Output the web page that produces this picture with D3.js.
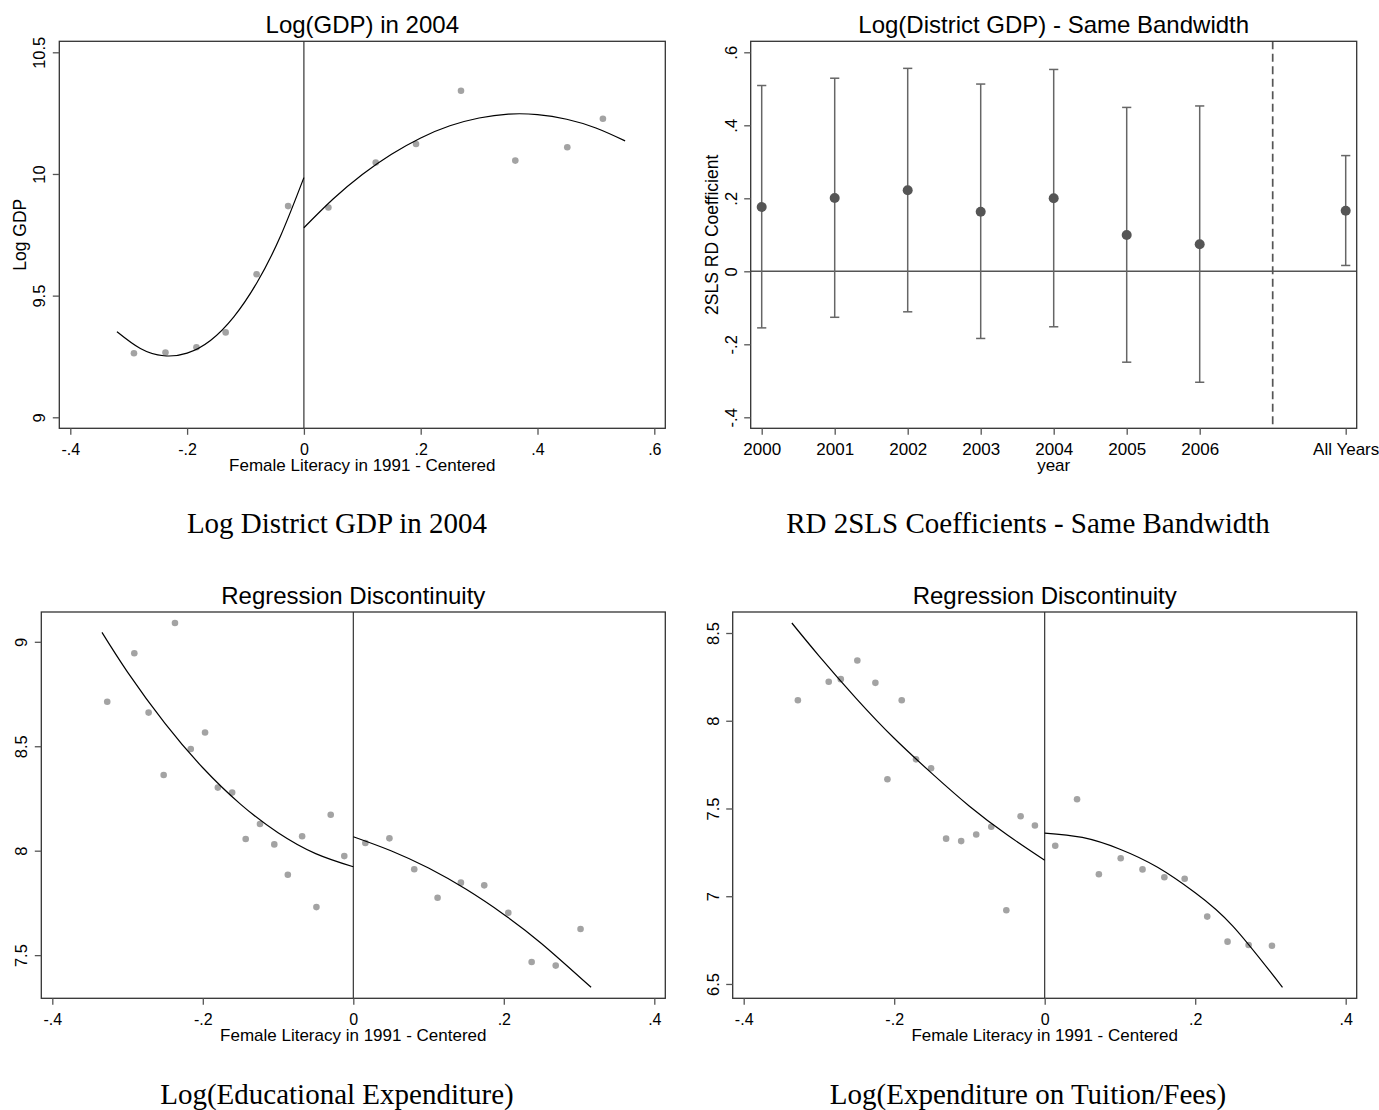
<!DOCTYPE html>
<html>
<head>
<meta charset="utf-8">
<script src="https://cdn.jsdelivr.net/npm/d3@7"></script>
<style>
  body { margin: 0; background: #fff; }
  svg { display: block; font-family: "Liberation Sans", Arial, sans-serif; }
</style>
</head>
<body>
<div id="chart"></div>
<script>
// ---------- values ----------
// Log(GDP) in 2004
const gdpBinX = [-0.291, -0.237, -0.184, -0.134, -0.081, -0.027, 0.042, 0.123, 0.192, 0.269, 0.362, 0.451, 0.512];
const gdpBinY = [9.263, 9.266, 9.288, 9.349, 9.588, 9.868, 9.862, 10.047, 10.123, 10.342, 10.055, 10.110, 10.227];
const gdpFitLeftX = [-0.32, -0.28, -0.24, -0.2, -0.16, -0.12, -0.08, -0.04, 0];
const gdpFitLeftY = [9.352, 9.283, 9.253, 9.264, 9.316, 9.413, 9.555, 9.745, 9.985];
const gdpFitRightX = [0, 0.05, 0.1, 0.15, 0.2, 0.25, 0.3, 0.35, 0.4, 0.45, 0.5, 0.55];
const gdpFitRightY = [9.779, 9.897, 9.998, 10.081, 10.148, 10.198, 10.230, 10.246, 10.244, 10.225, 10.189, 10.136];

// RD 2SLS coefficients by year (2008 = "All Years" slot, break at 2007)
const coefYears = [2000, 2001, 2002, 2003, 2004, 2005, 2006, 2008];
const coefLabels = ["2000", "2001", "2002", "2003", "2004", "2005", "2006", "All Years"];
const coefEst = [0.176, 0.201, 0.222, 0.163, 0.200, 0.0995, 0.074, 0.166];
const coefHi = [0.509, 0.529, 0.556, 0.513, 0.553, 0.449, 0.453, 0.317];
const coefLo = [-0.155, -0.126, -0.111, -0.184, -0.152, -0.249, -0.304, 0.016];
const coefBreak = 2007;

// Log(Educational Expenditure)
const eduBinX = [-0.327, -0.291, -0.272, -0.252, -0.237, -0.216, -0.197, -0.180, -0.161, -0.143, -0.124, -0.105, -0.087, -0.068, -0.049, -0.030, -0.012, 0.016, 0.048, 0.081, 0.112, 0.143, 0.174, 0.206, 0.237, 0.269, 0.302];
const eduBinY = [8.713, 8.945, 8.661, 8.362, 9.090, 8.487, 8.566, 8.302, 8.278, 8.056, 8.128, 8.030, 7.885, 8.069, 7.730, 8.172, 7.974, 8.037, 8.059, 7.911, 7.775, 7.847, 7.834, 7.703, 7.467, 7.450, 7.625];
const eduFitLeftX = [-0.334, -0.3, -0.25, -0.2, -0.15, -0.1, -0.05, 0];
const eduFitLeftY = [9.045, 8.855, 8.608, 8.397, 8.223, 8.086, 7.986, 7.923];
const eduFitRightX = [0, 0.05, 0.1, 0.15, 0.2, 0.25, 0.316];
const eduFitRightY = [8.067, 8.0, 7.917, 7.815, 7.695, 7.556, 7.346];

// Log(Expenditure on Tuition/Fees)
const tuiBinX = [-0.328, -0.287, -0.271, -0.249, -0.225, -0.209, -0.190, -0.171, -0.151, -0.131, -0.111, -0.091, -0.071, -0.051, -0.032, -0.013, 0.014, 0.043, 0.072, 0.101, 0.130, 0.159, 0.186, 0.216, 0.243, 0.271, 0.302];
const tuiBinY = [8.117, 8.222, 8.237, 8.343, 8.216, 7.667, 8.117, 7.780, 7.729, 7.328, 7.314, 7.352, 7.396, 6.920, 7.456, 7.403, 7.288, 7.553, 7.125, 7.216, 7.153, 7.108, 7.100, 6.884, 6.741, 6.722, 6.718];
const tuiFitLeftX = [-0.336, -0.3, -0.25, -0.2, -0.15, -0.1, -0.05, 0];
const tuiFitLeftY = [8.557, 8.37, 8.125, 7.90, 7.70, 7.513, 7.35, 7.205];
const tuiFitRightX = [0, 0.05, 0.1, 0.15, 0.2, 0.25, 0.316];
const tuiFitRightY = [7.36, 7.335, 7.268, 7.165, 7.02, 6.83, 6.481];

// tick values
const litTicksWide = [-0.4, -0.2, 0, 0.2, 0.4, 0.6];
const litTicks = [-0.4, -0.2, 0, 0.2, 0.4];
const gdpTicks = [9, 9.5, 10, 10.5];
const coefTicks = [-0.4, -0.2, 0, 0.2, 0.4, 0.6];
const eduTicks = [7.5, 8, 8.5, 9];
const tuiTicks = [6.5, 7, 7.5, 8, 8.5];

// ---------- drawing ----------
const W = 1379, H = 1110;
const PAD = 11;            // stata keeps ~11px between data/tick range and plot frame
const tickCol = "#555";
const frameCol = "#333";

const svg = d3.select("#chart").append("svg")
  .attr("width", W).attr("height", H);

// stata style numbers: .4, -.2, 10.5
const fmt = v => String(+(+v).toFixed(3)).replace(/^(-?)0\./, "$1.");

const zip = (xs, ys) => xs.map((x, i) => [x, ys[i]]);

function axes(g, f, x, y, xTicks, yTicks, xFormat, xFont) {
  const ya = g.append("g").attr("transform", `translate(${f.x0},0)`)
    .call(d3.axisLeft(y).tickValues(yTicks).tickSize(6.5).tickFormat(fmt));
  ya.attr("font-size", null).attr("font-family", null);
  ya.select(".domain").remove();
  ya.selectAll(".tick line").attr("stroke", tickCol).attr("stroke-width", 1.3);
  ya.selectAll(".tick text")
    .attr("x", null).attr("dy", null)
    .attr("text-anchor", "middle")
    .attr("transform", "translate(-14,0) rotate(-90)")
    .attr("font-size", 16.5).attr("fill", "#000");

  const xa = g.append("g").attr("transform", `translate(0,${f.y1})`)
    .call(d3.axisBottom(x).tickValues(xTicks).tickSize(6.5).tickFormat(xFormat || fmt));
  xa.attr("font-size", null).attr("font-family", null);
  xa.select(".domain").remove();
  xa.selectAll(".tick line").attr("stroke", tickCol).attr("stroke-width", 1.3);
  xa.selectAll(".tick text")
    .attr("y", 26.5).attr("dy", null)
    .attr("font-size", xFont || 16).attr("fill", "#000");
}

function frame(g, f) {
  g.append("rect")
    .attr("x", f.x0).attr("y", f.y0)
    .attr("width", f.x1 - f.x0).attr("height", f.y1 - f.y0)
    .attr("fill", "none").attr("stroke", frameCol).attr("stroke-width", 1.3);
}

function titles(g, f, title, xTitle, yTitle) {
  const cx = (f.x0 + f.x1) / 2, cy = (f.y0 + f.y1) / 2;
  g.append("text").attr("x", cx).attr("y", f.y0 - 8.5)
    .attr("text-anchor", "middle").attr("font-size", 24).text(title);
  if (xTitle) g.append("text").attr("x", cx).attr("y", f.y1 + 43)
    .attr("text-anchor", "middle").attr("font-size", 17).text(xTitle);
  if (yTitle) g.append("text")
    .attr("transform", `translate(${f.x0 - 33},${cy}) rotate(-90)`)
    .attr("text-anchor", "middle").attr("font-size", 17.5).text(yTitle);
}

function caption(text, cx, y) {
  svg.append("text").attr("x", cx).attr("y", y)
    .attr("text-anchor", "middle")
    .attr("font-family", "'Liberation Serif', 'Times New Roman', serif")
    .attr("font-size", 29).text(text);
}

function rdPanel(o) {
  const f = o.frame;
  const g = svg.append("g");
  const xsAll = o.binX.concat(o.fitLX, o.fitRX, o.xTicks);
  const ysAll = o.binY.concat(o.fitLY, o.fitRY, o.yTicks);
  const x = d3.scaleLinear().domain(d3.extent(xsAll)).range([f.x0 + PAD, f.x1 - PAD]);
  const y = d3.scaleLinear().domain(d3.extent(ysAll)).range([f.y1 - PAD, f.y0 + PAD]);

  // cutoff line
  g.append("line")
    .attr("x1", x(0)).attr("x2", x(0)).attr("y1", f.y0).attr("y2", f.y1)
    .attr("stroke", "#222").attr("stroke-width", 1.1);

  g.append("g").selectAll("circle")
    .data(zip(o.binX, o.binY))
    .join("circle")
    .attr("cx", d => x(d[0])).attr("cy", d => y(d[1]))
    .attr("r", 3.3).attr("fill", "#a3a3a3");

  const line = d3.line().x(d => x(d[0])).y(d => y(d[1])).curve(d3.curveNatural);
  [zip(o.fitLX, o.fitLY), zip(o.fitRX, o.fitRY)].forEach(pts => {
    g.append("path").attr("d", line(pts))
      .attr("fill", "none").attr("stroke", "#000").attr("stroke-width", 1.2);
  });

  frame(g, f);
  axes(g, f, x, y, o.xTicks, o.yTicks);
  titles(g, f, o.title, o.xTitle, o.yTitle);
}

function coefPanel(o) {
  const f = o.frame;
  const g = svg.append("g");
  const x = d3.scaleLinear().domain(d3.extent(coefYears)).range([f.x0 + PAD, f.x1 - PAD]);
  const y = d3.scaleLinear()
    .domain(d3.extent(coefLo.concat(coefHi, coefTicks)))
    .range([f.y1 - PAD, f.y0 + PAD]);

  g.append("line")
    .attr("x1", f.x0).attr("x2", f.x1).attr("y1", y(0)).attr("y2", y(0))
    .attr("stroke", "#555").attr("stroke-width", 1.6);
  g.append("line")
    .attr("x1", x(coefBreak)).attr("x2", x(coefBreak)).attr("y1", f.y0).attr("y2", f.y1)
    .attr("stroke", "#555").attr("stroke-width", 1.7).attr("stroke-dasharray", "8,4.5");

  const rows = coefYears.map((yr, i) => ({ yr, est: coefEst[i], lo: coefLo[i], hi: coefHi[i] }));
  const bars = g.append("g").attr("stroke", "#666").attr("stroke-width", 1.5);
  bars.selectAll(".ci").data(rows).join("line")
    .attr("x1", d => x(d.yr)).attr("x2", d => x(d.yr))
    .attr("y1", d => y(d.lo)).attr("y2", d => y(d.hi));
  ["lo", "hi"].forEach(k => {
    bars.selectAll(".cap-" + k).data(rows).join("line")
      .attr("x1", d => x(d.yr) - 4.6).attr("x2", d => x(d.yr) + 4.6)
      .attr("y1", d => y(d[k])).attr("y2", d => y(d[k]));
  });
  g.append("g").selectAll("circle").data(rows).join("circle")
    .attr("cx", d => x(d.yr)).attr("cy", d => y(d.est))
    .attr("r", 5).attr("fill", "#555");

  frame(g, f);
  axes(g, f, x, y, coefYears, coefTicks, (d, i) => coefLabels[i], 17);
  titles(g, f, o.title, o.xTitle, o.yTitle);
}

rdPanel({
  frame: { x0: 59.3, x1: 665.3, y0: 41.3, y1: 428.3 },
  binX: gdpBinX, binY: gdpBinY,
  fitLX: gdpFitLeftX, fitLY: gdpFitLeftY, fitRX: gdpFitRightX, fitRY: gdpFitRightY,
  xTicks: litTicksWide, yTicks: gdpTicks,
  title: "Log(GDP) in 2004", xTitle: "Female Literacy in 1991 - Centered", yTitle: "Log GDP"
});

coefPanel({
  frame: { x0: 750.7, x1: 1356.7, y0: 41.3, y1: 428.3 },
  title: "Log(District GDP) - Same Bandwidth", xTitle: "year", yTitle: "2SLS RD Coefficient"
});

rdPanel({
  frame: { x0: 41.3, x1: 665.3, y0: 612, y1: 998.3 },
  binX: eduBinX, binY: eduBinY,
  fitLX: eduFitLeftX, fitLY: eduFitLeftY, fitRX: eduFitRightX, fitRY: eduFitRightY,
  xTicks: litTicks, yTicks: eduTicks,
  title: "Regression Discontinuity", xTitle: "Female Literacy in 1991 - Centered"
});

rdPanel({
  frame: { x0: 732.7, x1: 1356.7, y0: 612, y1: 998.3 },
  binX: tuiBinX, binY: tuiBinY,
  fitLX: tuiFitLeftX, fitLY: tuiFitLeftY, fitRX: tuiFitRightX, fitRY: tuiFitRightY,
  xTicks: litTicks, yTicks: tuiTicks,
  title: "Regression Discontinuity", xTitle: "Female Literacy in 1991 - Centered"
});

caption("Log District GDP in 2004", 337, 533);
caption("RD 2SLS Coefficients - Same Bandwidth", 1028, 533);
caption("Log(Educational Expenditure)", 337, 1104);
caption("Log(Expenditure on Tuition/Fees)", 1028, 1104);
</script>
</body>
</html>
